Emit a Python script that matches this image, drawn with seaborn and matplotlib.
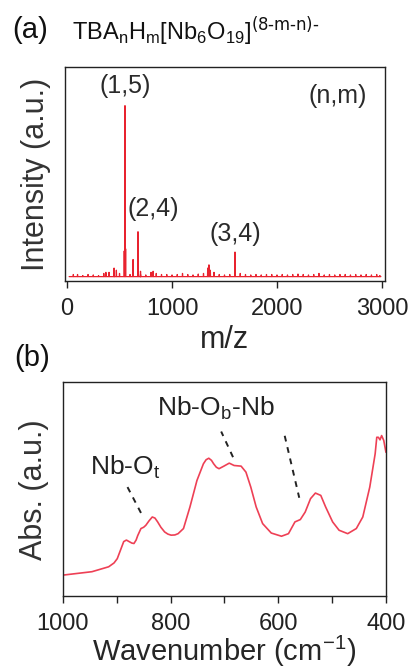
import numpy as np
import pandas as pd
import seaborn as sns
import matplotlib.pyplot as plt

# (a) mass spectrum: baseline noise and peaks (m/z, relative intensity)
noise_mz = [60, 100, 150, 200, 250, 300, 350, 400, 450, 500, 600, 700, 750, 800,
            850, 900, 950, 1000, 1050, 1100, 1150, 1200, 1250, 1300, 1400, 1450,
            1500, 1550, 1650, 1700, 1750, 1800, 1850, 1900, 1950, 2000, 2050,
            2100, 2150, 2200, 2250, 2300, 2350, 2400, 2450, 2500, 2550, 2600,
            2650, 2700, 2750, 2800, 2850, 2900, 2950, 2980]
noise_int = [0.03, 0.03, 0.025, 0.03, 0.028, 0.025, 0.035, 0.04, 0.035, 0.035,
             0.03, 0.03, 0.028, 0.04, 0.035, 0.03, 0.03, 0.028, 0.03, 0.035,
             0.03, 0.028, 0.032, 0.035, 0.04, 0.03, 0.028, 0.03, 0.035, 0.03,
             0.028, 0.03, 0.028, 0.03, 0.03, 0.028, 0.03, 0.028, 0.03, 0.032,
             0.03, 0.028, 0.03, 0.035, 0.028, 0.03, 0.028, 0.03, 0.03, 0.028,
             0.03, 0.028, 0.03, 0.028, 0.03, 0.025]
peak_mz = [370, 448, 470, 545, 552, 558, 629, 676, 700, 820, 1340, 1352, 1365, 1600]
peak_int = [0.04, 0.06, 0.05, 0.14, 0.82, 0.15, 0.10, 0.23, 0.045, 0.045,
            0.06, 0.075, 0.05, 0.135]
baseline = 0.02

# (b) IR spectrum
wavenumber = [1000, 946, 915, 905, 899, 893, 887, 882, 877, 872, 868, 864, 861,
              855, 850, 846, 840, 834, 829, 824, 818, 811, 805, 799, 792, 786,
              776, 764, 751, 739, 734, 729, 724, 720, 715, 710, 701, 691, 682,
              669, 660, 651, 641, 629, 613, 594, 581, 569, 559, 550, 540, 531,
              521, 512, 499, 487, 471, 455, 443, 430, 420, 417, 414, 411, 408,
              404, 400]
absorb = [0.098, 0.114, 0.137, 0.155, 0.175, 0.215, 0.255, 0.262, 0.255, 0.248,
          0.246, 0.262, 0.283, 0.316, 0.322, 0.331, 0.352, 0.37, 0.365, 0.347,
          0.322, 0.30, 0.29, 0.285, 0.286, 0.292, 0.316, 0.417, 0.541, 0.619,
          0.638, 0.645, 0.635, 0.619, 0.603, 0.596, 0.608, 0.622, 0.611,
          0.608, 0.58, 0.51, 0.417, 0.339, 0.295, 0.28, 0.292, 0.347, 0.358,
          0.393, 0.456, 0.482, 0.471, 0.417, 0.347, 0.308, 0.292, 0.316, 0.37,
          0.51, 0.666, 0.743, 0.743, 0.731, 0.751, 0.728, 0.673]

sns.set_style("ticks")
plt.rcParams["font.family"] = ["Liberation Sans", "DejaVu Sans"]
plt.rcParams["mathtext.default"] = "regular"

fig = plt.figure(figsize=(4.11, 6.72), dpi=100)
ax1 = fig.add_axes([0.158, 0.582, 0.779, 0.318])
ax2 = fig.add_axes([0.153, 0.113, 0.786, 0.318])

# build stick spectrum (each peak / noise spike drawn as a narrow spike)
xs, ys = [20], [baseline]
pts = sorted(list(zip(noise_mz, noise_int)) + list(zip(peak_mz, peak_int)))
for mz, h in pts:
    xs += [mz - 2, mz, mz + 2]
    ys += [baseline, h, baseline]
xs.append(2990)
ys.append(baseline)
d_ms = pd.DataFrame({"mz": xs, "intensity": ys})
sns.lineplot(data=d_ms, x="mz", y="intensity", sort=False, estimator=None,
             color="#e8232f", lw=0.9, ax=ax1)
ax1.set_xlim(-20, 3030)
ax1.set_ylim(0, 1)
ax1.set_xticks([0, 1000, 2000, 3000])
ax1.set_yticks([])
ax1.set_xlabel("m/z", fontsize=22, labelpad=4)
ax1.set_ylabel("Intensity (a.u.)", fontsize=22, color="#333333", labelpad=10)
lab = dict(fontsize=18, ha="center", va="bottom", color="#2a2a2a")
ax1.text(552, 0.855, "(1,5)", **lab)
ax1.text(820, 0.28, "(2,4)", **lab)
ax1.text(1600, 0.165, "(3,4)", **lab)
ax1.text(2860, 0.81, "(n,m)", fontsize=18, ha="right", va="bottom", color="#2a2a2a")

d_ir = pd.DataFrame({"wavenumber": wavenumber, "abs": absorb})
sns.lineplot(data=d_ir, x="wavenumber", y="abs", sort=False, estimator=None,
             color="#ee4055", lw=1.2, ax=ax2)
ax2.set_xlim(1000, 400)
ax2.set_ylim(0, 1)
ax2.set_xticks([1000, 800, 600, 400])
ax2.set_xticks([900, 700, 500], minor=True)
ax2.set_yticks([])
ax2.set_xlabel("Wavenumber (cm$^{-1}$)", fontsize=21, labelpad=-1)
ax2.set_ylabel("Abs. (a.u.)", fontsize=22, color="#333333", labelpad=10)
ax2.text(885, 0.6, "Nb-O$_t$", fontsize=19, ha="center", va="center", color="#222222")
ax2.plot([880, 851], [0.51, 0.37], ls=(0, (3, 3)), color="#222222", lw=1.4)
ax2.text(716, 0.88, "Nb-O$_b$-Nb", fontsize=19, ha="center", va="center", color="#222222")
ax2.plot([684, 706], [0.65, 0.77], ls=(0, (3, 3)), color="#222222", lw=1.4)
ax2.plot([588, 561], [0.75, 0.46], ls=(0, (3, 3)), color="#222222", lw=1.4)

for ax in (ax1, ax2):
    for s in ax.spines.values():
        s.set_color("#222222")
        s.set_linewidth(1.0)
    ax.tick_params(axis="x", which="both", direction="out", length=5, width=1,
                   labelsize=17, colors="#222222", pad=7)

fig.text(0.03, 0.955, "(a)", fontsize=21, color="#111111", va="center")
fig.text(0.175, 0.955,
         r"TBA$_n$H$_m$[Nb$_6$O$_{19}$]$^{\text{(8-m-n)-}}$",
         fontsize=17, color="#111111", va="center")
fig.text(0.035, 0.468, "(b)", fontsize=21, color="#111111", va="center")

fig.savefig("out.png", dpi=100)
